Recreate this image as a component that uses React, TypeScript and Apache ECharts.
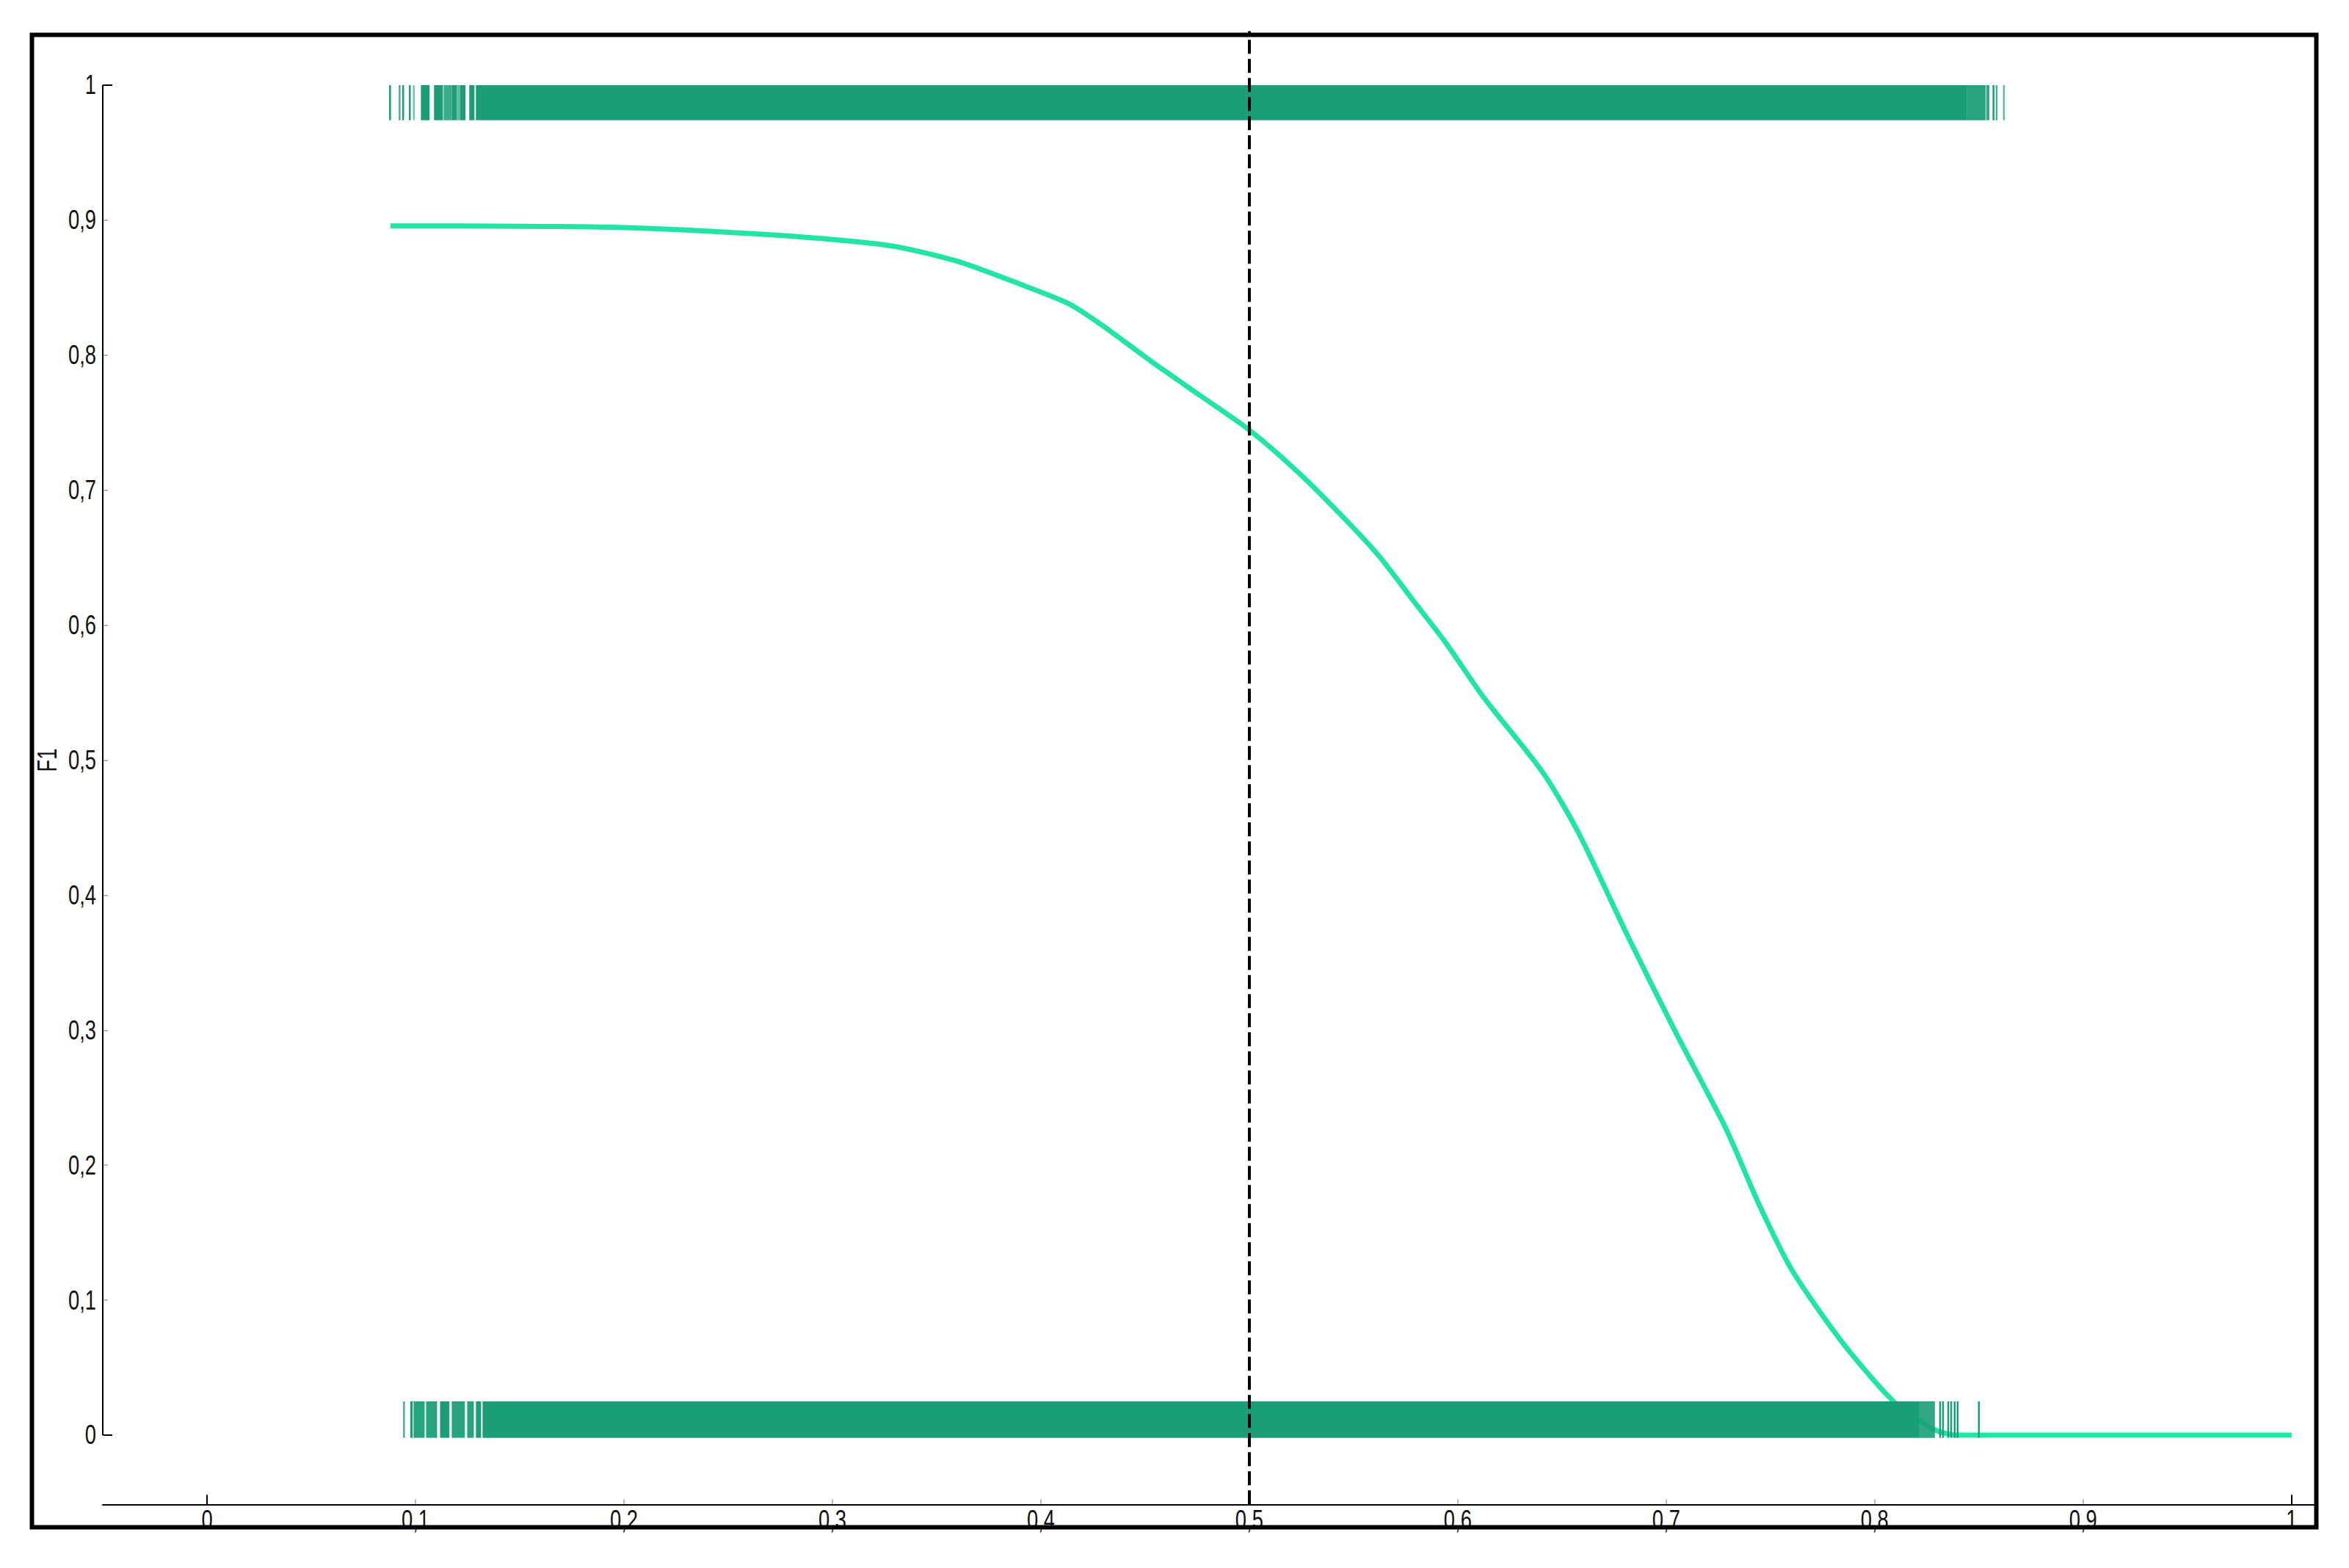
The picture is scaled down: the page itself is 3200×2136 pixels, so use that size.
import React, { useEffect, useRef } from "react";
import * as echarts from "echarts";

// ---- Axis ticks / labels ----
const TICK_VALUES = [0, 0.1, 0.2, 0.3, 0.4, 0.5, 0.6, 0.7, 0.8, 0.9, 1];
const TICK_LABELS = ["0", "0,1", "0,2", "0,3", "0,4", "0,5", "0,6", "0,7", "0,8", "0,9", "1"];
const MAJOR_TICKS = [0, 1];
const MINOR_TICKS = [0.1, 0.2, 0.3, 0.4, 0.5, 0.6, 0.7, 0.8, 0.9];
const Y_NAME = "F1";

// ---- F1 curve vs threshold ----
const THRESHOLDS = [
  0.088, 0.15, 0.2, 0.25, 0.3, 0.33, 0.36, 0.39, 0.4135, 0.4293, 0.4529, 0.4764, 0.5,
  0.5236, 0.5471, 0.5629, 0.5786, 0.5943, 0.6124, 0.6408, 0.6581, 0.6817, 0.7053, 0.7288,
  0.7445, 0.7603, 0.7838, 0.809, 0.828, 0.839, 0.86, 1.0,
];
const F1_VALUES = [
  0.8957, 0.8955, 0.8945, 0.891, 0.8857, 0.8805, 0.8695, 0.8526, 0.838, 0.8222, 0.7955,
  0.7701, 0.7446, 0.713, 0.6766, 0.6499, 0.6183, 0.5868, 0.5465, 0.4909, 0.4457, 0.3692,
  0.2961, 0.2266, 0.171, 0.1223, 0.0701, 0.025, 0.0045, 0.0, 0.0, 0.0,
];

// Chosen decision threshold
const THRESHOLD = 0.5;

// ---- Rug of predicted probabilities: [from, to, opacity] ----
// Positive samples (drawn at F1 = 1)
const POSITIVE_RUG = [
  [0.0878, 0.0878, 1],
  [0.0924, 0.0924, 0.8],
  [0.0941, 0.0941, 1],
  [0.0973, 0.0973, 1],
  [0.0992, 0.0992, 0.6],
  [0.1026, 0.1068, 1],
  [0.1089, 0.1132, 1],
  [0.1135, 0.1174, 0.85],
  [0.1174, 0.1198, 1],
  [0.1198, 0.1215, 0.7],
  [0.1215, 0.124, 1],
  [0.1258, 0.1283, 1],
  [0.129, 0.8444, 1],
  [0.8444, 0.8532, 0.95],
  [0.8535, 0.855, 0.9],
  [0.857, 0.857, 1],
  [0.8585, 0.8585, 0.8],
  [0.862, 0.862, 0.7],
];
// Negative samples (drawn at F1 = 0)
const NEGATIVE_RUG = [
  [0.0945, 0.0945, 0.8],
  [0.0975, 0.0987, 1],
  [0.0991, 0.1044, 0.95],
  [0.1051, 0.1104, 0.95],
  [0.1118, 0.1163, 1],
  [0.1174, 0.1237, 0.95],
  [0.1248, 0.128, 0.95],
  [0.129, 0.1315, 1],
  [0.1322, 0.8212, 1],
  [0.8212, 0.8289, 0.9],
  [0.8314, 0.8314, 1],
  [0.8328, 0.8328, 1],
  [0.8353, 0.8353, 1],
  [0.8367, 0.8367, 1],
  [0.8384, 0.8384, 1],
  [0.8398, 0.8398, 1],
  [0.85, 0.85, 1],
];

// axis extents
const X_MIN = -0.05;
const X_MAX = 1.011;
const Y_MIN = -0.0513;
const Y_MAX = 1.04;
const POS_RUG_Y = [0.974, 1.0];
const NEG_RUG_Y = [-0.002, 0.025];

const FONT_FAMILY = "'Liberation Sans', Arial, sans-serif";
const FONT_SIZE = 37;
const LABEL_SCALE_X = 0.74;
const TEXT_COLOR = "#111";
const RUG_COLOR = "#1b9e77";
const LINE_COLOR = "#22e4a4";

export default function App() {
  const ref = useRef<HTMLDivElement>(null);

  useEffect(() => {
    document.body.style.margin = "0";
    if (!ref.current) return;
    const chart = echarts.init(ref.current, undefined, { renderer: "svg" });

    const rugItem = (yr: number[]) => (params: any, api: any) => {
      const x0 = api.value(0);
      const x1 = api.value(1);
      const op = api.value(2);
      const p0 = api.coord([x0, yr[1]]);
      const p1 = api.coord([x1, yr[0]]);
      let w = p1[0] - p0[0];
      let x = p0[0];
      if (w < 2.5) {
        x = x - 1.25;
        w = 2.5;
      }
      return {
        type: "rect",
        shape: { x, y: p0[1], width: w, height: p1[1] - p0[1] },
        style: { fill: RUG_COLOR, opacity: op },
      };
    };

    const xBase = {
      type: "value",
      min: X_MIN,
      max: X_MAX,
      position: "bottom",
      splitLine: { show: false },
      axisLabel: { show: false },
    };
    const yBase = {
      type: "value",
      min: Y_MIN,
      max: Y_MAX,
      position: "left",
      splitLine: { show: false },
      axisLabel: { show: false },
    };

    const option: any = {
      animation: false,
      backgroundColor: "#ffffff",
      grid: { left: 140, right: 47, top: 42.4, bottom: 86.7, containLabel: false },
      xAxis: [
        {
          ...xBase,
          axisLine: { show: true, onZero: false, lineStyle: { color: "#000", width: 2 } },
          axisTick: {
            show: true,
            inside: true,
            length: 7,
            customValues: MINOR_TICKS,
            lineStyle: { color: "#a0a0a0", width: 1.5 },
          },
        },
        {
          ...xBase,
          axisLine: { show: false, onZero: false },
          axisTick: {
            show: true,
            inside: true,
            length: 13,
            customValues: MAJOR_TICKS,
            lineStyle: { color: "#000", width: 2 },
          },
        },
      ],
      yAxis: [
        {
          ...yBase,
          axisLine: { show: false, onZero: false },
          axisTick: {
            show: true,
            inside: true,
            length: 7,
            customValues: MINOR_TICKS,
            lineStyle: { color: "#a0a0a0", width: 1.5 },
          },
        },
        {
          ...yBase,
          axisLine: { show: false, onZero: false },
          axisTick: {
            show: true,
            inside: true,
            length: 13,
            customValues: MAJOR_TICKS,
            lineStyle: { color: "#000", width: 2 },
          },
        },
      ],
      series: [
        {
          name: "y-spine",
          type: "line",
          xAxisIndex: 0,
          yAxisIndex: 0,
          data: [
            [X_MIN, MAJOR_TICKS[0]],
            [X_MIN, MAJOR_TICKS[1]],
          ],
          symbol: "none",
          clip: false,
          lineStyle: { color: "#000", width: 2 },
          z: 3,
          silent: true,
        },
        {
          name: "F1",
          type: "line",
          xAxisIndex: 0,
          yAxisIndex: 0,
          data: THRESHOLDS.map((t, i) => [t, F1_VALUES[i]]),
          symbol: "none",
          smooth: 0.25,
          lineStyle: { color: LINE_COLOR, width: 7 },
          z: 2,
        },
        {
          name: "positives",
          type: "custom",
          xAxisIndex: 0,
          yAxisIndex: 0,
          data: POSITIVE_RUG,
          renderItem: rugItem(POS_RUG_Y),
          z: 4,
          silent: true,
        },
        {
          name: "negatives",
          type: "custom",
          xAxisIndex: 0,
          yAxisIndex: 0,
          data: NEGATIVE_RUG,
          renderItem: rugItem(NEG_RUG_Y),
          z: 4,
          silent: true,
        },
        {
          name: "threshold",
          type: "line",
          xAxisIndex: 0,
          yAxisIndex: 0,
          data: [],
          symbol: "none",
          z: 6,
          markLine: {
            silent: true,
            symbol: ["none", "none"],
            label: { show: false },
            lineStyle: { color: "#000", width: 4, type: [19, 7] },
            data: [{ xAxis: THRESHOLD }],
          },
        },
      ],
    };

    chart.setOption(option);

    // Tick labels in a narrow face, placed through the axes' own scales
    const xPix = (v: number) => chart.convertToPixel({ xAxisIndex: 0 }, v) as number;
    const yPix = (v: number) => chart.convertToPixel({ yAxisIndex: 0 }, v) as number;
    const axisY = yPix(Y_MIN);
    const axisX = xPix(X_MIN);

    const textEl = (text: string, x: number, y: number, align: string, rotation = 0) => ({
      type: "text",
      x,
      y,
      rotation,
      scaleX: LABEL_SCALE_X,
      silent: true,
      z: 50,
      style: {
        text,
        fontSize: FONT_SIZE,
        fontFamily: FONT_FAMILY,
        font: FONT_SIZE + "px " + FONT_FAMILY,
        fill: TEXT_COLOR,
        align,
        textAlign: align,
        verticalAlign: "middle",
        textVerticalAlign: "middle",
      },
    });

    const graphics: any[] = [];
    TICK_VALUES.forEach((v, i) => {
      graphics.push(textEl(TICK_LABELS[i], xPix(v), axisY + 21, "center"));
      graphics.push(textEl(TICK_LABELS[i], axisX - 9, yPix(v), "right"));
    });
    graphics.push(textEl(Y_NAME, axisX - 76, yPix(0.5), "center", Math.PI / 2));
    graphics.push({
      type: "rect",
      z: 100,
      silent: true,
      shape: { x: 43.5, y: 47.5, width: 3112, height: 2033 },
      style: { fill: "none", stroke: "#000", lineWidth: 6 },
    });
    chart.setOption({ graphic: graphics });

    return () => chart.dispose();
  }, []);

  return <div ref={ref} style={{ width: 3200, height: 2136 }} />;
}
